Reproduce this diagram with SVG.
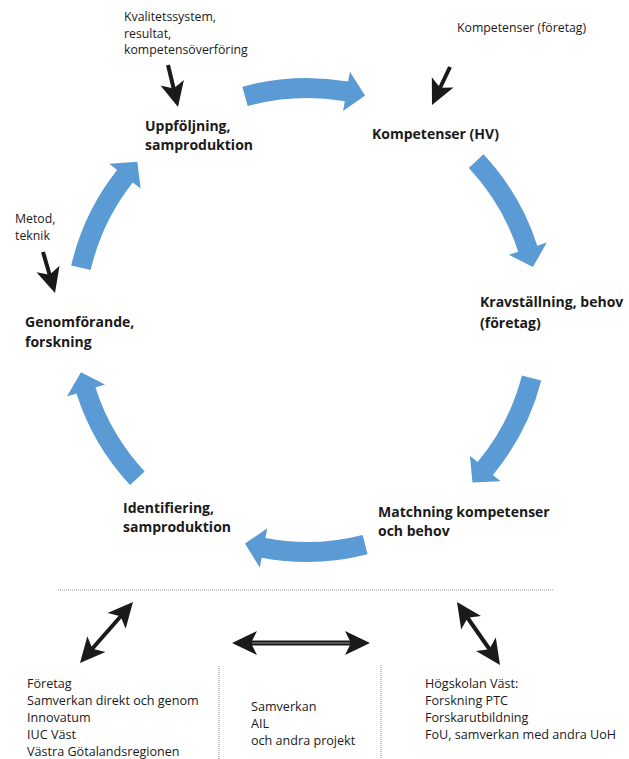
<svg xmlns="http://www.w3.org/2000/svg" xmlns:xlink="http://www.w3.org/1999/xlink" width="629" height="759" viewBox="0 0 629 759">
<style>
text{font-family:"Open Sans","Noto Sans","Liberation Sans",sans-serif;fill:#1a1a1a}
.b{font-weight:bold;font-size:14px}
.r{font-size:12.3px}
.s{font-size:12.6px}
.blue{fill:#5b9bd5}
.blk{fill:#1a1a1a}
.shaft{stroke:#1a1a1a;stroke-width:4;fill:none}
.dot{stroke:#9a9a9a;stroke-width:1.2;stroke-dasharray:1 1;fill:none}
</style>
<defs>
<path id="cyc" d="M242 0 A242 242 0 0 1 218.79 103.43 L227.83 107.7 L200.92 116 L191.67 90.61 L200.71 94.88 A222 222 0 0 0 222 0 Z"/>
<path id="hd" d="M0 0 L-25 -12 L-19 0 L-25 12 Z"/>
</defs>
<rect width="629" height="759" fill="#fff"/>
<g id="connectors">
  <g class="blue">
    <use xlink:href="#cyc" transform="translate(307,320) rotate(-105.5)"/>
    <use xlink:href="#cyc" transform="translate(307,320) rotate(-43.2)"/>
    <use xlink:href="#cyc" transform="translate(307,320) rotate(14.5)"/>
    <use xlink:href="#cyc" transform="translate(307,320) rotate(75.5)"/>
    <use xlink:href="#cyc" transform="translate(307,320) rotate(137)"/>
    <use xlink:href="#cyc" transform="translate(307,320) rotate(193)"/>
  </g>
  <g id="in-arrows">
    <line class="shaft" x1="168" y1="65" x2="174" y2="90"/>
    <use class="blk" xlink:href="#hd" transform="translate(178,107) rotate(76.6)"/>
    <line class="shaft" x1="450" y1="67" x2="440" y2="88"/>
    <use class="blk" xlink:href="#hd" transform="translate(432,105) rotate(115.3)"/>
    <line class="shaft" x1="43" y1="252" x2="50" y2="276"/>
    <use class="blk" xlink:href="#hd" transform="translate(55,293) rotate(73.7)"/>
  </g>
  <g id="bottom-arrows">
    <line class="shaft" x1="121" y1="616" x2="92" y2="649"/>
    <use class="blk" xlink:href="#hd" transform="translate(133,602) rotate(-49)"/>
    <use class="blk" xlink:href="#hd" transform="translate(80,663) rotate(131)"/>
    <line class="shaft" x1="250" y1="643" x2="352" y2="643" style="stroke-width:5"/>
    <line x1="252" y1="643" x2="350" y2="643" stroke="#8a8a8a" stroke-width="1"/>
    <use class="blk" xlink:href="#hd" transform="translate(232,643) rotate(180)"/>
    <use class="blk" xlink:href="#hd" transform="translate(370,643)"/>
    <line class="shaft" x1="467" y1="617" x2="490" y2="650"/>
    <use class="blk" xlink:href="#hd" transform="translate(457,602) rotate(-124.3)"/>
    <use class="blk" xlink:href="#hd" transform="translate(500,665) rotate(55.7)"/>
  </g>
  <g id="separators">
    <line class="dot" x1="58" y1="590" x2="553" y2="590"/>
    <line class="dot" x1="219" y1="666" x2="219" y2="759"/>
    <line class="dot" x1="381" y1="665" x2="381" y2="759"/>
  </g>
</g>
<g id="kvalitet"><text class="r" x="124" y="21">Kvalitetssystem,</text><text class="r" x="124" y="37.5">resultat,</text><text class="r" x="124" y="54">kompetensöverföring</text></g>
<g id="komp-foretag"><text class="r" x="457" y="32">Kompetenser (företag)</text></g>
<g id="uppfoljning"><text class="b" x="145" y="131">Uppföljning,</text><text class="b" x="145" y="149.5">samproduktion</text></g>
<g id="komp-hv"><text class="b" x="372" y="139">Kompetenser (HV)</text></g>
<g id="metod"><text class="r" x="15" y="222.5">Metod,</text><text class="r" x="15" y="239.5">teknik</text></g>
<g id="genomforande"><text class="b" x="25" y="327">Genomförande,</text><text class="b" x="25" y="347">forskning</text></g>
<g id="kravstallning"><text class="b" x="480" y="307">Kravställning, behov</text><text class="b" x="480" y="328">(företag)</text></g>
<g id="identifiering"><text class="b" x="123" y="513">Identifiering,</text><text class="b" x="123" y="532">samproduktion</text></g>
<g id="matchning"><text class="b" x="378" y="517">Matchning kompetenser</text><text class="b" x="378" y="536">och behov</text></g>
<g id="foretag"><text class="s" x="27" y="688">Företag</text><text class="s" x="27" y="705">Samverkan direkt och genom</text><text class="s" x="27" y="722">Innovatum</text><text class="s" x="27" y="739">IUC Väst</text><text class="s" x="27" y="756">Västra Götalandsregionen</text></g>
<g id="samverkan"><text class="s" x="251" y="711">Samverkan</text><text class="s" x="251" y="728">AIL</text><text class="s" x="251" y="745">och andra projekt</text></g>
<g id="hogskolan"><text class="s" x="425" y="688">Högskolan Väst:</text><text class="s" x="425" y="705">Forskning PTC</text><text class="s" x="425" y="722">Forskarutbildning</text><text class="s" x="425" y="739">FoU, samverkan med andra UoH</text></g>
</svg>
